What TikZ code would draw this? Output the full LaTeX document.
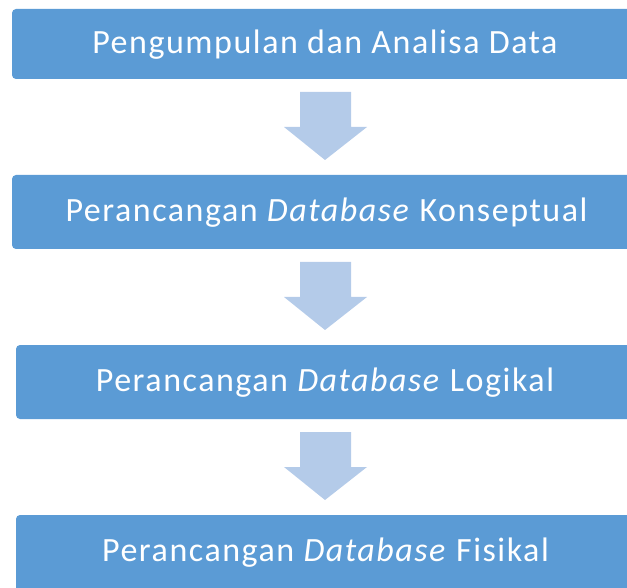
\documentclass[tikz,border=0pt]{standalone}
\usepackage{fontspec}
\setmainfont{Carlito}[LetterSpace=4.5]
\definecolor{boxblue}{HTML}{5B9BD5}
\definecolor{arrowblue}{HTML}{B4CBE9}
\begin{document}
\begin{tikzpicture}[x=1pt,y=-1pt,
  stagebox/.style={fill=boxblue, draw=none, rounded corners=4pt},
  stagetext/.style={text=white, font=\fontsize{34}{40}\selectfont, anchor=base, inner sep=0pt},
  downarrow/.style={fill=arrowblue, draw=none}]
\useasboundingbox (0,0) rectangle (627,588);
\clip (0,0) rectangle (627,588);
% boxes
\fill[stagebox] (12,9) rectangle (640,79);
\node[stagetext] (t1) at (325,53.5) {Pengumpulan dan Analisa Data};
\fill[stagebox] (12,175) rectangle (640,249);
\node[stagetext] (t2) at (326.5,221.5) {Perancangan \textit{Database} Konseptual};
\fill[stagebox] (16,345) rectangle (640,419);
\node[stagetext] (t3) at (325,391.5) {Perancangan \textit{Database} Logikal};
\fill[stagebox] (16,515) rectangle (640,600);
\node[stagetext] (t4) at (325.5,561.5) {Perancangan \textit{Database} Fisikal};
% arrows
\foreach \y in {92,262,432}{
  \fill[downarrow] (300,\y) -- (351,\y) -- (351,\y+35) -- (367,\y+35) -- (325,\y+68) -- (284,\y+35) -- (300,\y+35) -- cycle;
}
\end{tikzpicture}
\end{document}
